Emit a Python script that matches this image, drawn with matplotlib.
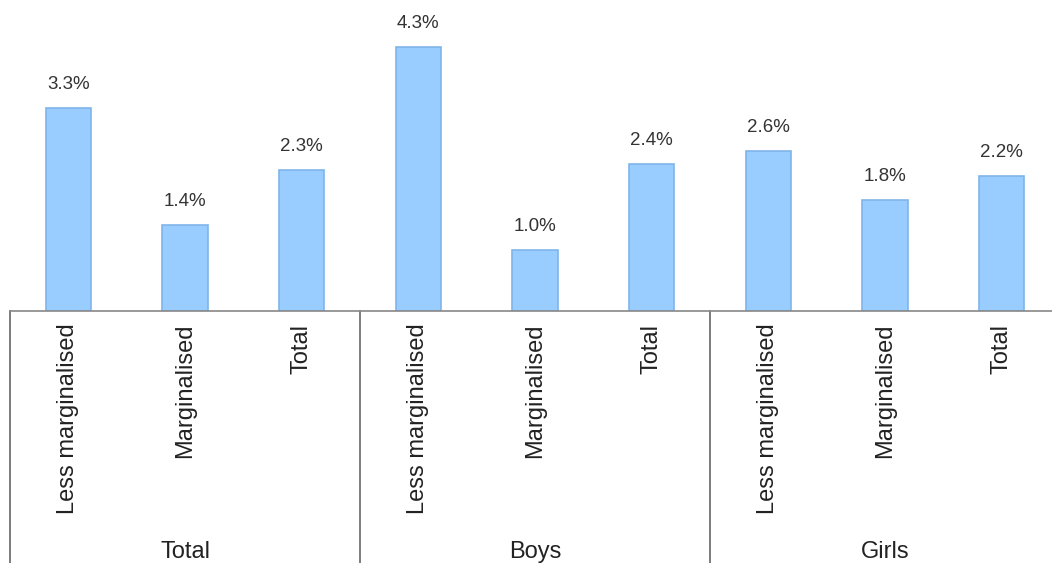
import matplotlib
matplotlib.use("Agg")
import matplotlib.pyplot as plt
from matplotlib.transforms import blended_transform_factory

plt.rcParams['font.family'] = ['Liberation Sans', 'DejaVu Sans']

groups = ["Total", "Boys", "Girls"]
subcats = ["Less marginalised", "Marginalised", "Total"]
values = [3.3, 1.4, 2.3, 4.3, 1.0, 2.4, 2.6, 1.8, 2.2]

W, H = 1052, 563
fig = plt.figure(figsize=(W / 100, H / 100), dpi=100)
ax_left = 10 / W
ax_bottom = 1 - 311 / H
ax = fig.add_axes([ax_left, ax_bottom, 1 - ax_left, 311 / H])

cat_px = 350 / 3
xs = list(range(len(values)))
ax.bar(xs, values, width=0.39, color="#99CCFF", edgecolor="#80B5EA", linewidth=1.2)
ax.set_xlim(-0.5, -0.5 + (W - 10) / cat_px)
ax.set_ylim(0, 311 / 61.4)

for x, v in zip(xs, values):
    ax.annotate(f"{v:.1f}%", (x, v), xytext=(0, 15), textcoords="offset pixels",
                ha="center", va="bottom", fontsize=13.5, color="#333333")

for s in ["left", "right", "top"]:
    ax.spines[s].set_visible(False)
ax.spines["bottom"].set_color("#888888")
ax.spines["bottom"].set_linewidth(1.2)
ax.set_yticks([])
ax.set_xticks(xs)
ax.set_xticklabels(subcats * len(groups), rotation=90, fontsize=17, color="#222222", va="top", ha="center")
ax.tick_params(axis="x", length=0, pad=9)

trans = blended_transform_factory(ax.transData, fig.transFigure)
for b in [-0.5, 2.5, 5.5]:
    ax.plot([b, b], [0, ax_bottom], transform=trans, color="#666666", lw=1.2, clip_on=False)
for i, g in enumerate(groups):
    ax.text(i * 3 + 1, 1 - 552 / H, g, transform=trans, ha="center", va="center",
            fontsize=17, color="#222222")

fig.savefig("out.png", dpi=100)
